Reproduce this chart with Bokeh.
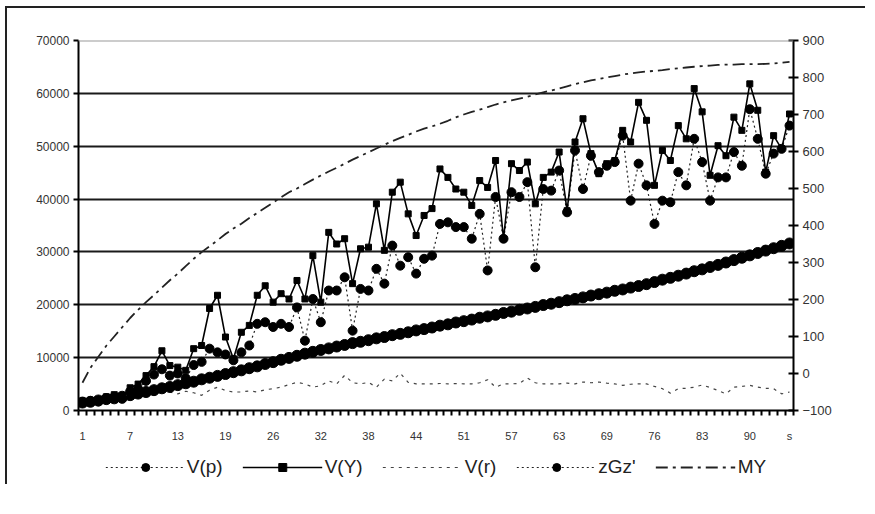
from bokeh.plotting import figure
from bokeh.layouts import column
from bokeh.models import (Range1d, LinearAxis, FixedTicker, Legend, LegendItem, Span)
from bokeh.embed import file_html
from bokeh.resources import INLINE

# ---------------- data ----------------
v_y = [1800, 1900, 1800, 2600, 3000, 2300, 4300, 5000, 6600, 8300,
       11300, 8500, 8200, 7600, 11700, 12300, 19300, 21800, 13900, 9800,
       14800, 16100, 21800, 23600, 20500, 22100, 21100, 24600, 21100, 29300,
       20500, 33700, 31500, 32500, 24000, 30600, 30900, 39100, 30300, 41300,
       43200, 37200, 33100, 36900, 38200, 45700, 44100, 41900, 41300, 38800,
       43500, 42200, 47300, 32500, 46700, 45400, 47000, 39100, 44100, 45100,
       48900, 37800, 50800, 55200, 48600, 44800, 46700, 47300, 53000, 50800,
       58300, 54900, 42600, 49200, 47300, 53900, 51400, 60900, 56500, 44500,
       50100, 48200, 55500, 53000, 61800, 56800, 45100, 52000, 49500, 56100]

v_p = [1600, 1800, 1700, 2300, 2600, 2200, 3600, 4100, 5600, 6800,
       7800, 6600, 7000, 6100, 8600, 9200, 11700, 11000, 10600, 9500,
       11000, 12300, 16400, 16700, 15800, 16400, 15800, 19500, 13200, 21100,
       16700, 22700, 22700, 25200, 15100, 23000, 22700, 26800, 24000, 31200,
       27400, 29000, 25900, 28700, 29300, 35300, 35600, 34700, 34700, 32500,
       37200, 26500, 40400, 32500, 41300, 40400, 43200, 27100, 41900, 41600,
       45400, 37500, 49200, 41900, 48200, 45100, 46300, 47000, 52000, 39700,
       46700, 42600, 35300, 39700, 39400, 45100, 42600, 51400, 47000, 39700,
       44100, 44100, 48900, 46300, 57000, 51400, 44800, 48600, 49500, 53900]

zgz = [1500, 1650, 1900, 2150, 2300, 2600, 2900, 3200, 3500, 3850,
       4200, 4450, 4800, 5150, 5450, 5900, 6200, 6550, 6900, 7250,
       7600, 8000, 8350, 8800, 9150, 9600, 9950, 10350, 10750, 11100,
       11450, 11750, 12100, 12400, 12750, 13000, 13300, 13650, 13900, 14250,
       14500, 14800, 15150, 15400, 15700, 16050, 16300, 16650, 16900, 17200,
       17550, 17800, 18100, 18450, 18700, 19050, 19300, 19600, 19950, 20200,
       20500, 20850, 21100, 21400, 21750, 22000, 22300, 22650, 22900, 23250,
       23550, 23900, 24300, 24750, 25100, 25500, 25900, 26350, 26700, 27150,
       27550, 28000, 28450, 28900, 29350, 29800, 30250, 30700, 31150, 31600]

# right axis series
v_r = [-85, -80, -78, -72, -70, -66, -62, -60, -58, -55,
       -52, -50, -55, -48, -52, -59, -45, -37, -46, -50,
       -50, -47, -50, -44, -41, -37, -30, -24, -28, -37,
       -33, -20, -28, -5, -25, -28, -24, -37, -15, -20,
       1, -24, -28, -28, -28, -27, -28, -27, -28, -28,
       -25, -17, -37, -28, -28, -27, -12, -25, -28, -28,
       -28, -26, -28, -23, -25, -23, -26, -28, -32, -29,
       -28, -28, -35, -41, -53, -41, -40, -37, -31, -38,
       -46, -55, -37, -35, -32, -37, -40, -41, -55, -50]

my = [-25, 15, 45, 75, 100, 125, 150, 172, 193, 212,
      232, 252, 270, 290, 310, 328, 344, 360, 377, 392,
      405, 420, 434, 448, 462, 476, 490, 500, 512, 524,
      535, 546, 556, 567, 578, 588, 598, 608, 618, 628,
      637, 645, 654, 662, 668, 675, 683, 692, 700, 707,
      713, 720, 727, 733, 738, 743, 748, 754, 760, 765,
      770, 776, 782, 787, 792, 796, 800, 804, 808, 811,
      814, 816, 818, 820, 823, 825, 827, 829, 831, 832,
      834, 835, 835, 836, 836, 836, 837, 838, 840, 842]

x = list(range(len(v_y)))

x_tick_labels = {0: "1", 6: "7", 12: "13", 18: "19", 24: "26", 30: "32", 36: "38",
                 42: "44", 48: "51", 54: "57", 60: "63", 66: "69", 72: "76",
                 78: "83", 84: "90", 89: "s"}
left_ticks = [0, 10000, 20000, 30000, 40000, 50000, 60000, 70000]
right_ticks = [-100, 0, 100, 200, 300, 400, 500, 600, 700, 800, 900]

FONT = "Liberation Sans"
LBL = "#333333"

p = figure(width=858, height=442, output_backend="svg", toolbar_location=None,
           x_range=Range1d(-0.5, len(x) - 0.5), y_range=Range1d(0, 70000),
           min_border_left=71, min_border_right=72, min_border_top=32,
           min_border_bottom=40)
p.extra_y_ranges = {"right": Range1d(-100, 900)}
p.outline_line_color = None
p.background_fill_color = "white"

# x axis: labels at category centres, comb of ticks at category boundaries
xa = p.xaxis[0]
xa.ticker = FixedTicker(ticks=list(x_tick_labels.keys()),
                        minor_ticks=[i - 0.5 for i in range(len(x) + 1)])
xa.major_label_overrides = x_tick_labels
xa.major_tick_out = 0
xa.major_tick_in = 0
xa.major_tick_line_color = None
xa.minor_tick_out = 5
xa.minor_tick_in = 0
xa.minor_tick_line_color = "black"
xa.minor_tick_line_width = 2
xa.axis_line_width = 2
xa.axis_line_color = "black"
xa.major_label_text_font = FONT
xa.major_label_text_font_size = "11px"
xa.major_label_text_color = LBL
xa.major_label_standoff = 14

# left y axis
ya = p.yaxis[0]
ya.ticker = FixedTicker(ticks=left_ticks, minor_ticks=[])
ya.major_tick_out = 5
ya.major_tick_in = 0
ya.major_tick_line_width = 2
ya.axis_line_width = 2
ya.axis_line_color = "black"
ya.major_label_text_font = FONT
ya.major_label_text_font_size = "12px"
ya.major_label_text_color = LBL
ya.major_label_standoff = 4

# right y axis
ra = LinearAxis(y_range_name="right", ticker=FixedTicker(ticks=right_ticks, minor_ticks=[]))
ra.major_tick_out = 5
ra.major_tick_in = 5
ra.major_tick_line_width = 2
ra.axis_line_width = 2
ra.axis_line_color = "black"
ra.major_label_text_font = FONT
ra.major_label_text_font_size = "13px"
ra.major_label_text_color = LBL
ra.major_label_standoff = 4
p.add_layout(ra, "right")

p.xgrid.visible = False
p.ygrid.ticker = FixedTicker(ticks=left_ticks[1:-1])
p.ygrid.grid_line_color = "#1a1a1a"
p.ygrid.grid_line_width = 2
p.add_layout(Span(location=left_ticks[-1], dimension="width",
                  line_color="#999999", line_width=2))

# series
MY_STYLE = dict(line_color="#222222", line_width=1.8, line_dash="12 5 3 5")
VR_STYLE = dict(line_color="#444444", line_width=1.2, line_dash="3 5")
DOT_STYLE = dict(line_color="#222222", line_width=1.2, line_dash="2 3")


def draw(fig, right_name):
    r = {}
    r["my"] = fig.line(x, my, y_range_name=right_name, **MY_STYLE)
    r["vr"] = fig.line(x, v_r, y_range_name=right_name, **VR_STYLE)
    r["zl"] = fig.line(x, zgz, **DOT_STYLE)
    r["zs"] = fig.scatter(x, zgz, marker="circle", size=11, color="black")
    r["pl"] = fig.line(x, v_p, **DOT_STYLE)
    r["ps"] = fig.scatter(x, v_p, marker="circle", size=9, color="black")
    r["yl"] = fig.line(x, v_y, line_color="black", line_width=1.6)
    r["ys"] = fig.scatter(x, v_y, marker="square", size=6, color="black")
    return r


draw(p, "right")

# legend strip under the chart (same series, ranges set so that nothing is in view)
lg = figure(width=858, height=34, output_backend="svg", toolbar_location=None,
            x_range=Range1d(1000, 1001), y_range=Range1d(1e6, 1e6 + 1),
            min_border_left=71, min_border_right=72, min_border_top=0, min_border_bottom=0)
lg.extra_y_ranges = {"right": Range1d(1e6, 1e6 + 1)}
lg.axis.visible = False
lg.grid.visible = False
lg.outline_line_color = None
lr = draw(lg, "right")
lr["zs"].glyph.size = 9

legend = Legend(items=[
    LegendItem(label="V(p)", renderers=[lr["pl"], lr["ps"]]),
    LegendItem(label="V(Y)", renderers=[lr["yl"], lr["ys"]]),
    LegendItem(label="V(r)", renderers=[lr["vr"]]),
    LegendItem(label="zGz'", renderers=[lr["zl"], lr["zs"]]),
    LegendItem(label="MY", renderers=[lr["my"]]),
], orientation="horizontal", location="center")
legend.glyph_width = 80
legend.glyph_height = 20
legend.label_text_font = FONT
legend.label_text_font_size = "19px"
legend.label_text_color = "#222222"
legend.label_standoff = 2
legend.spacing = 20
legend.padding = 2
legend.margin = 0
legend.border_line_color = None
legend.background_fill_alpha = 0
lg.add_layout(legend, "center")

page = column(p, lg, spacing=0,
              styles={"border-left": "2px solid #222", "border-top": "2px solid #222",
                      "margin-left": "5px", "margin-top": "6px"})

open("out.html", "w").write(file_html(page, INLINE))
